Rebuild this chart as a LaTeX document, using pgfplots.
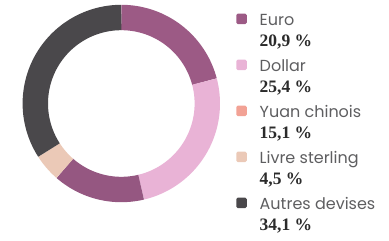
\documentclass[border=0pt]{standalone}
\usepackage{pgfplots}
\pgfplotsset{compat=1.18}
\usepackage{fontspec}
\setmainfont{Poppins}
\newfontfamily\numfont{Liberation Serif}
\definecolor{euro}{HTML}{9C5A85}
\definecolor{dollar}{HTML}{E9B3D6}
\definecolor{yuan}{HTML}{F2A295}
\definecolor{yuanseg}{HTML}{955781}
\definecolor{livre}{HTML}{EBC9B7}
\definecolor{autres}{HTML}{4A484B}
\definecolor{lab}{HTML}{5E5E60}
\definecolor{num}{HTML}{2B2B2B}
% segment: colour, cumulative start (%), share (%)
\newcommand{\seg}[3]{%
  \addplot[draw=#1, line width=25.4pt, line cap=butt, domain={90-3.6*(#2+#3)}:{90-3.6*(#2)}, samples=90, variable=\t]
    ({121.3+86*cos(\t)},{137.5+86*sin(\t)});}
\newcommand{\leg}[4]{% colour, y of label baseline (image px), label, value
  \node[fill=#1, rounded corners=1.5pt, minimum size=10.5pt, inner sep=0pt] at (axis cs:241.5,{241-#2+6.5}) {};
  \node[anchor=base west, inner sep=0pt, text=lab, font=\fontsize{16}{16}\selectfont] at (axis cs:259.5,{241-#2}) {#3};
  \node[anchor=base west, inner sep=0pt, text=num, font=\numfont\bfseries\fontsize{17.5}{17.5}\selectfont] at (axis cs:259.5,{241-#2-21.5}) {#4};}
\begin{document}
\begin{tikzpicture}
\useasboundingbox (0,0) rectangle (389pt,241pt);
\begin{axis}[x=1pt, y=1pt, xmin=0, xmax=389, ymin=0, ymax=241,
  hide axis, clip=false, scale only axis, anchor=south west, at={(0,0)}]
\seg{euro}{0}{20.9}
\seg{dollar}{20.9}{25.4}
\seg{yuanseg}{46.3}{15.1}
\seg{livre}{61.4}{4.5}
\seg{autres}{65.9}{34.1}
\leg{euro}{25.5}{Euro}{20,9 \%}
\leg{dollar}{71.5}{Dollar}{25,4 \%}
\leg{yuan}{117.5}{Yuan chinois}{15,1 \%}
\leg{livre}{163.5}{Livre sterling}{4,5 \%}
\leg{autres}{209.5}{Autres devises}{34,1 \%}
\end{axis}
\end{tikzpicture}
\end{document}
